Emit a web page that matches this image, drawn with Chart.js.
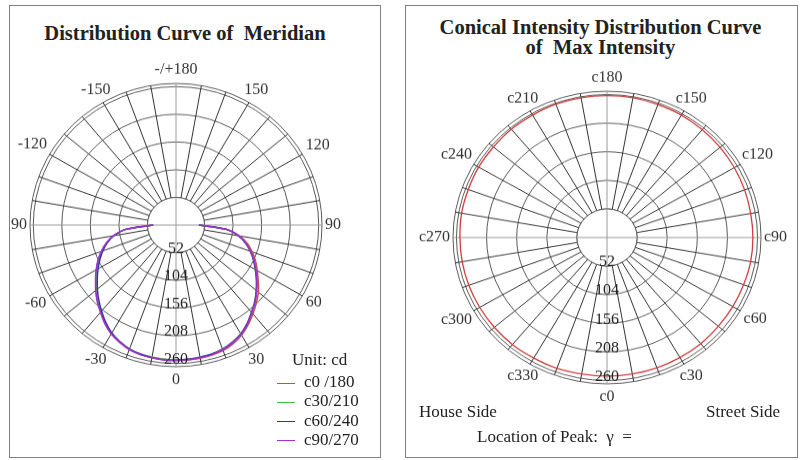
<!DOCTYPE html>
<html>
<head>
<meta charset="utf-8">
<script src="https://cdn.jsdelivr.net/npm/chart.js@4.4.1/dist/chart.umd.min.js"></script>
<style>
    body { margin: 0; background: #fff; font-family: "Liberation Serif", "DejaVu Serif", serif; color: #222; }
    #page { position: relative; width: 800px; height: 460px; overflow: hidden; }
    .box { position: absolute; border: 1px solid #808080; }
    .wrap { position: absolute; top: 0; transform-origin: 0 0; }
    .t { position: absolute; white-space: pre; line-height: 20px; font-size: 17px; }
    .title { font-weight: bold; font-size: 20.5px; text-align: center; }
    .lg { position: absolute; left: 277px; height: 20px; line-height: 20px; font-size: 17px; white-space: pre; }
    .lg span { display: inline-block; width: 18px; height: 0; border-top: 1px solid; vertical-align: middle; margin-right: 9px; }
</style>
</head>
<body>
<div id="page">
    <div class="box" style="left:9px;top:5px;width:370px;height:451px"></div>
    <div class="box" style="left:405px;top:5px;width:391px;height:451px"></div>

    <div class="t title" style="left:0;width:370px;top:23px">Distribution Curve of  Meridian</div>
    <div class="t title" style="left:400px;width:401px;top:17px">Conical Intensity Distribution Curve<br>of  Max Intensity</div>

    <div class="wrap" style="left:0;transform:scaleY(0.97)"><canvas id="meridianChart" width="400" height="474"></canvas></div>
    <div class="wrap" style="left:400px;transform:scaleY(0.95)"><canvas id="coneChart" width="400" height="484"></canvas></div>

    <div class="t" style="left:292px;top:350px">Unit: cd</div>
    <div id="legend"></div>

    <div class="t" style="left:419px;top:402px">House Side</div>
    <div class="t" style="left:706px;top:402px">Street Side</div>
    <div class="t" style="left:477px;top:427px">Location of Peak:  γ  =</div>
</div>

<script>
// 目盛りリング (cd)
const ringValues = [52, 104, 156, 208, 260];
const scaleMax = 266;

// 角度ラベル（下から時計回り、30度ごと）
const meridianTickText = ['0', '-30', '-60', '90', '-120', '-150', '-/+180', '150', '120', '90', '60', '30'];
const coneTickText = ['c0', 'c330', 'c300', 'c270', 'c240', 'c210', 'c180', 'c150', 'c120', 'c90', 'c60', 'c30'];

// 配光曲線 γ = -90 .. 90 (5度ごと)
const c0_180  = [41, 91, 115, 131, 144, 156, 167, 178, 190, 202, 213, 225, 235, 242, 248, 251, 252, 253, 253, 254, 254, 253, 251, 246, 239, 229, 218, 207, 196, 183, 171, 160, 148, 135, 118, 93, 43];
const c30_210 = [41, 92, 115, 131, 144, 156, 167, 178, 190, 202, 213, 225, 235, 242, 248, 251, 252, 253, 253, 253, 252, 251, 248, 243, 236, 226, 214, 203, 191, 179, 167, 156, 144, 131, 115, 91, 41];
const c60_240 = [42, 92, 115, 130, 142, 153, 164, 175, 187, 199, 211, 223, 234, 242, 248, 251, 253, 254, 254, 253, 252, 251, 248, 243, 236, 226, 214, 203, 191, 179, 167, 156, 144, 131, 115, 92, 42];
const c90_270 = [42, 92, 116, 132, 145, 157, 168, 179, 191, 203, 214, 226, 236, 243, 249, 252, 253, 254, 254, 254, 253, 252, 249, 244, 237, 227, 215, 204, 192, 180, 168, 157, 145, 132, 116, 92, 42];

// 最大光度の円錐配光 c0, c350, ... c10
const coneMax = [252, 252, 253, 253, 254, 254, 254, 254, 254, 254, 255, 255, 256, 256, 257, 257, 258, 258,
                 258, 258, 257, 257, 256, 255, 254, 253, 252, 252, 252, 251, 251, 251, 252, 252, 252, 252];

const meridianSeries = [
    { label: 'c0 /180', data: c0_180, color: '#c0504d', order: 3 },
    { label: 'c30/210', data: c30_210, color: '#44c444', order: 2 },
    { label: 'c60/240', data: c60_240, color: '#3535a5', order: 1 },
    { label: 'c90/270', data: c90_270, color: '#a030d0', order: 0 }
];

// 5度刻みのカテゴリ（下から時計回り: 0, -5, ..., -180, 175, ..., 5）
const meridianLabels = [];
for (let k = 0; k < 72; k++) meridianLabels.push(String(k <= 36 ? -5 * k : 360 - 5 * k));
const coneLabels = [];
for (let k = 0; k < 36; k++) coneLabels.push('c' + ((360 - 10 * k) % 360));

// γ = -90..90 の値を全周配列へ (上半分は null)
function toFullCircle(values) {
    const full = new Array(72).fill(null);
    values.forEach((v, i) => {
        const a = -90 + 5 * i;
        const idx = a <= 0 ? -a / 5 : 72 - a / 5;
        full[idx] = v;
    });
    return full;
}

const gridColor = '#5a5a5a';

const polarPlugin = {
    id: 'polarDecor',
    beforeDatasetsDraw(chart, args, opts) {
        const s = chart.scales.r;
        const ctx = chart.ctx;
        const rh = s.getDistanceFromCenterForValue(ringValues[0]);
        ctx.save();
        ctx.beginPath();
        ctx.arc(s.xCenter, s.yCenter, rh, 0, Math.PI * 2);
        ctx.fillStyle = '#fff';
        ctx.fill();
        ctx.strokeStyle = gridColor;
        ctx.lineWidth = 1;
        ctx.stroke();
        // 0/90/180/270 の線は中心まで通す
        ctx.strokeStyle = '#9a9a9a';
        const n = chart.data.labels.length;
        for (let q = 0; q < 4; q++) {
            const p = s.getPointPosition(q * n / 4, rh);
            ctx.beginPath();
            ctx.moveTo(s.xCenter, s.yCenter);
            ctx.lineTo(p.x, p.y);
            ctx.stroke();
        }
        ctx.restore();
    },
    afterDatasetsDraw(chart, args, opts) {
        const s = chart.scales.r;
        const ctx = chart.ctx;
        ctx.save();
        ctx.font = '16px "Liberation Serif"';
        ctx.fillStyle = '#222';
        ctx.textAlign = 'center';
        ctx.textBaseline = 'middle';
        ringValues.forEach(v => {
            const d = s.getDistanceFromCenterForValue(v);
            ctx.fillText(String(v), s.xCenter, s.yCenter + d - 4);
        });
        // 角度ラベル
        const step = chart.data.labels.length / opts.tickText.length;
        opts.tickText.forEach((txt, j) => {
            const idx = j * step;
            const ang = s.getIndexAngle(idx) - Math.PI / 2;
            const cx = Math.cos(ang), sy = Math.sin(ang);
            const w = ctx.measureText(txt).width / 2, h = 8;
            const ext = Math.min(Math.abs(cx) > 1e-3 ? w / Math.abs(cx) : Infinity,
                                 Math.abs(sy) > 1e-3 ? h / Math.abs(sy) : Infinity);
            const d = s.drawingArea + 3 + 3 * sy * sy + ext;
            ctx.fillStyle = '#333';
            ctx.fillText(txt, s.xCenter + cx * d, s.yCenter + sy * d);
        });
        ctx.restore();
    }
};

function makePolar(canvasId, labels, datasets, padding, tickText) {
    const n = labels.length;
    const spokeStep = n / 36;
    return new Chart(document.getElementById(canvasId), {
        type: 'radar',
        data: { labels: labels, datasets: datasets },
        plugins: [polarPlugin],
        options: {
            responsive: false,
            animation: false,
            devicePixelRatio: 1,
            layout: { padding: padding },
            elements: { point: { radius: 0 } },
            scales: {
                r: {
                    min: 0,
                    max: scaleMax,
                    startAngle: 180,
                    afterBuildTicks: s => {
                        s.ticks = [0].concat(ringValues, [scaleMax]).map(v => ({ value: v }));
                    },
                    ticks: { display: false },
                    pointLabels: { display: false },
                    grid: { circular: true, color: gridColor, lineWidth: 1 },
                    angleLines: {
                        lineWidth: c => (c.index % spokeStep === 0 ? 1 : 0),
                        color: c => (c.index % (9 * spokeStep) === 0 ? '#9a9a9a' : '#333333')
                    }
                }
            },
            plugins: {
                legend: { display: false },
                tooltip: { enabled: false },
                polarDecor: { tickText: tickText }
            }
        }
    });
}

makePolar('meridianChart', meridianLabels, meridianSeries.map(s => ({
    label: s.label,
    data: toFullCircle(s.data),
    borderColor: s.color,
    borderWidth: 1.5,
    fill: false,
    tension: 0.3,
    spanGaps: false,
    order: s.order
})), { left: 30, top: 86, right: 77, bottom: 95 }, meridianTickText);

makePolar('coneChart', coneLabels, [{
    label: 'max',
    data: coneMax,
    borderColor: '#d03c3c',
    borderWidth: 1.3,
    fill: false,
    tension: 0.3
}], { left: 53, top: 96, right: 39, bottom: 80 }, coneTickText);

// 凡例
const legend = document.getElementById('legend');
meridianSeries.forEach((s, i) => {
    const el = document.createElement('div');
    el.className = 'lg';
    el.style.top = (372 + i * 19.3) + 'px';
    el.innerHTML = '<span style="border-color:' + s.color + '"></span>' + s.label;
    legend.appendChild(el);
});
</script>
</body>
</html>
